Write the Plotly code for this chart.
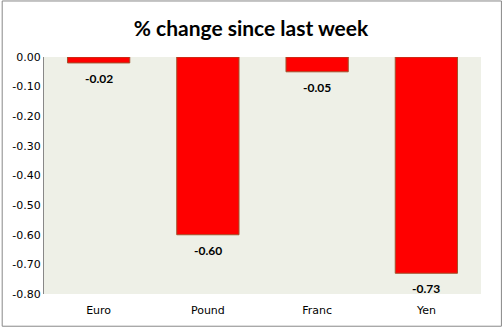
import plotly.graph_objects as go

currencies = ["Euro", "Pound", "Franc", "Yen"]
pct_change = [-0.02, -0.60, -0.05, -0.73]
tick_values = [0.0, -0.1, -0.2, -0.3, -0.4, -0.5, -0.6, -0.7, -0.8]
tick_labels = ["0.00", "-0.10", "-0.20", "-0.30", "-0.40", "-0.50", "-0.60", "-0.70", "-0.80"]
value_labels = [f"{v:.2f}" for v in pct_change]

fig = go.Figure(
    go.Bar(
        x=currencies,
        y=pct_change,
        width=0.57,
        marker=dict(color="#FF0000", line=dict(color="#A0522D", width=1)),
        cliponaxis=False,
    )
)

# value labels sit a little below the end of each bar
for cur, val, lab in zip(currencies, pct_change, value_labels):
    fig.add_annotation(
        x=cur,
        y=val,
        text=f"<b>{lab}</b>",
        showarrow=False,
        yanchor="top",
        yshift=-6,
        font=dict(family="Lato", size=12, color="#000000"),
    )

fig.update_layout(
    width=502,
    height=329,
    margin=dict(l=42, r=21, t=57, b=33),
    paper_bgcolor="#FFFFFF",
    plot_bgcolor="#EEF0E7",
    showlegend=False,
    title=dict(
        text="<b>% change since last week</b>",
        x=0.5,
        xanchor="center",
        y=0.912,
        yanchor="middle",
        font=dict(family="Lato", size=21, color="#000000"),
    ),
    xaxis=dict(
        showgrid=False,
        showline=False,
        ticks="",
        ticklabelstandoff=8,
        tickfont=dict(family="DejaVu Sans", size=11, color="#000000"),
    ),
    yaxis=dict(
        range=[-0.8, 0],
        tickvals=tick_values,
        ticktext=tick_labels,
        showgrid=False,
        zeroline=False,
        showline=True,
        linecolor="#888888",
        linewidth=1,
        ticks="",
        ticklen=0,
        tickfont=dict(family="DejaVu Sans", size=11, color="#000000"),
    ),
    shapes=[
        dict(
            type="rect",
            xref="paper",
            yref="paper",
            x0=-42 / 439,
            x1=1 + 20.5 / 439,
            y0=-32.5 / 239,
            y1=1 + 56.5 / 239,
            line=dict(color="#888888", width=1),
            fillcolor="rgba(0,0,0,0)",
            layer="below",
        )
    ],
)

fig.write_html("out.html")
